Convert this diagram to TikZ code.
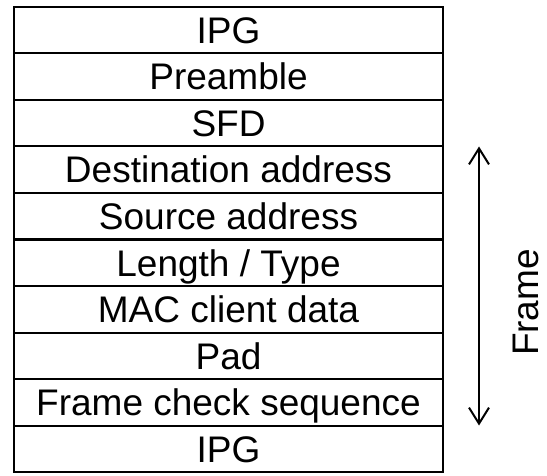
\documentclass[tikz,border=0pt]{standalone}
\usepackage{fontspec}
\setmainfont{Liberation Sans}
\usepackage{tikz}
\usetikzlibrary{arrows.meta, positioning}

\begin{document}
\begin{tikzpicture}[
    x=1pt, y=1pt,
    node distance=0pt,
    field/.style={rectangle, draw, line width=2pt, outer sep=0pt,
                  minimum width=429pt, minimum height=46.5pt, inner sep=0pt,
                  text height=26.5pt, text depth=0pt,
                  font=\fontsize{37}{40}\selectfont},
    arr/.style={{Straight Barb[length=16pt, width=20pt]}-{Straight Barb[length=16pt, width=20pt]}, line width=2pt},
]
  \useasboundingbox (0,0) rectangle (547,475);

  \node[field, anchor=north] (ipg1) at (228.5,468) {IPG};
  \node[field, below=of ipg1]  (pre)  {Preamble};
  \node[field, below=of pre]   (sfd)  {SFD};
  \node[field, below=of sfd]   (dst)  {Destination address};
  \node[field, below=of dst]   (src)  {Source address};
  \node[field, below=of src]   (len)  {Length / Type};
  \node[field, below=of len]   (data) {MAC client data};
  \node[field, below=of data]  (pad)  {Pad};
  \node[field, below=of pad]   (fcs)  {Frame check sequence};
  \node[field, below=of fcs]   (ipg2) {IPG};

  \coordinate (rail) at (479,0);
  \draw[arr] (dst.north -| rail) -- (fcs.south -| rail);

  \node[rotate=90, anchor=base, inner sep=0pt, font=\fontsize{37}{40}\selectfont]
    (framelbl) at (538.5,172.5) {Frame};
\end{tikzpicture}
\end{document}
